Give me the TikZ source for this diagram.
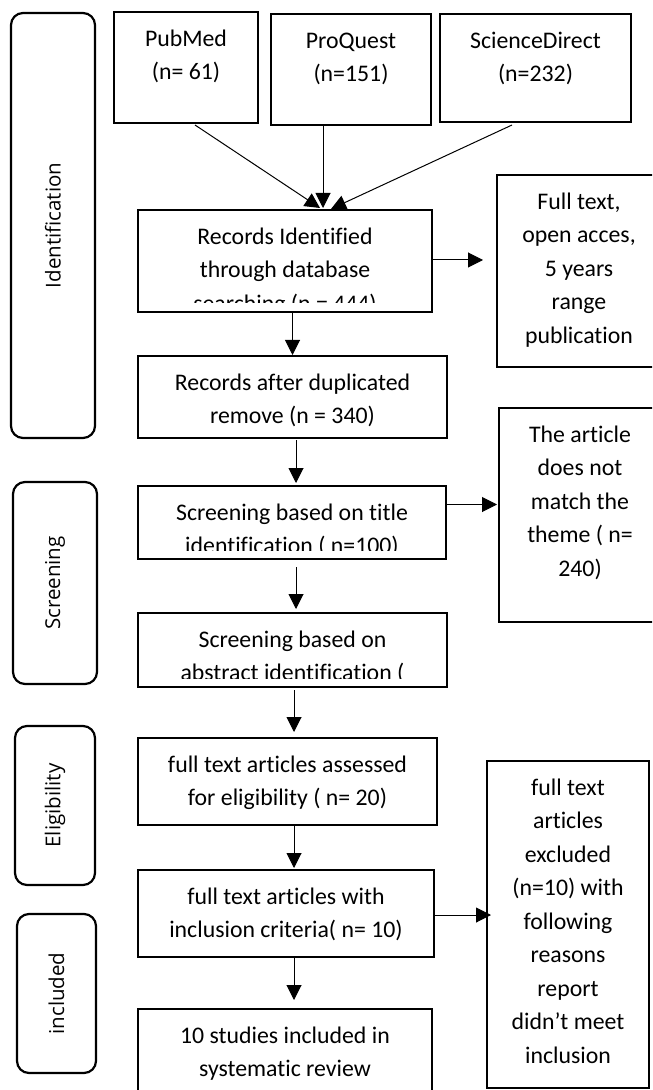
\documentclass[tikz,border=0pt]{standalone}
\usepackage{fontspec}
\setmainfont{Carlito}[Ligatures={NoCommon}]
\newfontfamily\stagefont{Open Sans}[Ligatures={NoCommon}]
\usetikzlibrary{arrows.meta,calc,fit}
\begin{document}
\begin{tikzpicture}[x=0.5pt,y=-0.5pt,
  box/.style={draw=black, line width=0.6pt, inner sep=0pt, outer sep=0pt},
  stage/.style={draw=black, line width=1.1pt, rounded corners=6pt, inner sep=0pt, outer sep=0pt},
  txt/.style={anchor=north, align=center, inner sep=0pt, font=\fontsize{11.9}{16.75}\selectfont},
  stagetxt/.style={rotate=90, inner sep=0pt, font=\stagefont\fontsize{10.25}{12}\selectfont},
  arr/.style={line width=0.5pt, -{Triangle[length=7.5pt,width=7.5pt]}}
]
\clip (0,0) rectangle (652,1090);

% stage labels
\node[stage, fit={(11,13) (95,438)}] (ident) {};
\node[stage, fit={(13,482) (97,684)}] (screen) {};
\node[stage, fit={(15,726) (95,885)}] (elig) {};
\node[stage, fit={(17,914) (96,1073)}] (incl) {};
\node[stagetxt] (identT) at (ident.center) {Identification};
\node[stagetxt] (screenT) at (screen.center) {Screening};
\node[stagetxt] (eligT) at (elig.center) {Eligibility};
\node[stagetxt] (inclT) at (incl.center) {included};

% boxes
\node[box, fit={(114,12) (258,123)}] (pub) {};
\node[box, fit={(271,14) (431,125)}] (proq) {};
\node[box, fit={(440,14) (631,122)}] (sd) {};
\node[box, fit={(138,210) (432,312)}] (rid) {};
\node[box, fit={(497,175) (661,367)}] (full) {};
\node[box, fit={(138,356) (447,438)}] (after) {};
\node[box, fit={(138,486) (446,559)}] (title) {};
\node[box, fit={(499,408) (661,622)}] (theme) {};
\node[box, fit={(138,613) (447,687)}] (abstract) {};
\node[box, fit={(138,738) (437,825)}] (assessed) {};
\node[box, fit={(138,870) (434,957)}] (inclusion) {};
\node[box, fit={(487,761) (649,1088)}] (excluded) {};
\node[box, fit={(138,1009) (432,1110)}] (studies) {};

% texts
\node[txt] (pubT) at ($(pub.north)+(0,10.5)$) {\strut PubMed\\(n= 61)};
\node[txt] (proqT) at ($(proq.north)+(0,10.5)$) {\strut ProQuest\\(n=151)};
\node[txt] (sdT) at ($(sd.north)+(0,10.5)$) {\strut ScienceDirect\\(n=232)};
\begin{scope}
  \clip (rid.north west) rectangle ($(rid.south east)+(0,-9)$);
  \node[txt] (ridT) at ($(rid.north)+(0,10.5)$) {\strut Records Identified\\through database\\searching (n = 444)};
\end{scope}
\node[txt] (fullT) at ($(full.north)+(0,10.5)$) {\strut Full text,\\open acces,\\5 years\\range\\publication};
\node[txt] (afterT) at ($(after.north)+(0,10.5)$) {\strut Records after duplicated\\remove (n = 340)};
\begin{scope}
  \clip (title.north west) rectangle ($(title.south east)+(0,-9)$);
  \node[txt] (titleT) at ($(title.north)+(0,10.5)$) {\strut Screening based on title\\identification ( n=100)};
\end{scope}
\node[txt] (themeT) at ($(theme.north)+(0,10.5)$) {\strut The article\\does not\\match the\\theme ( n=\\240)};
\begin{scope}
  \clip (abstract.north west) rectangle ($(abstract.south east)+(0,-9)$);
  \node[txt] (abstractT) at ($(abstract.north)+(0,10.5)$) {\strut Screening based on\\abstract identification (};
\end{scope}
\node[txt] (assessedT) at ($(assessed.north)+(0,10.5)$) {\strut full text articles assessed\\for eligibility ( n= 20)};
\node[txt] (inclusionT) at ($(inclusion.north)+(0,10.5)$) {\strut full text articles with\\inclusion criteria( n= 10)};
\node[txt] (excludedT) at ($(excluded.north)+(0,10.5)$) {\strut full text\\articles\\excluded\\(n=10) with\\following\\reasons\\report\\didn’t meet\\inclusion};
\node[txt] (studiesT) at ($(studies.north)+(0,10.5)$) {\strut 10 studies included in\\systematic review};

% connectors
\draw[arr] ($(pub.south)+(9,2)$) -- ($(rid.north)+(35,-2)$);
\draw[arr] ($(proq.south)+(-28,0)$) -- ($(rid.north)+(38,-2)$);
\draw[arr] ($(sd.south)+(-23.5,3)$) -- ($(rid.north)+(46,-1)$);
\draw[arr] ($(rid.east)+(0,-1)$) -- ($(rid.east -| full.west)+(-14,-1)$);
\draw[arr] (after.north |- rid.south) -- ($(after.north)+(0,-1)$);
\draw[arr] ($(after.south)+(3.5,2)$) -- ($(title.north)+(4,-3)$);
\draw[arr] ($(title.east)+(0,-18)$) -- ($(title.east -| theme.west)+(-2,-18)$);
\draw[arr] ($(title.south)+(4,8)$) -- ($(abstract.north)+(3.5,-4)$);
\draw[arr] ($(abstract.south)+(1.5,3)$) -- ($(assessed.north)+(6.5,-6)$);
\draw[arr] ($(assessed.south)+(6.5,0)$) -- ($(inclusion.north)+(8,-2)$);
\draw[arr] ($(inclusion.east)+(0,1.5)$) -- ($(inclusion.east -| excluded.west)+(4,1.5)$);
\draw[arr] ($(inclusion.south)+(8,0)$) -- ($(studies.north)+(9,-9)$);
\end{tikzpicture}
\end{document}
